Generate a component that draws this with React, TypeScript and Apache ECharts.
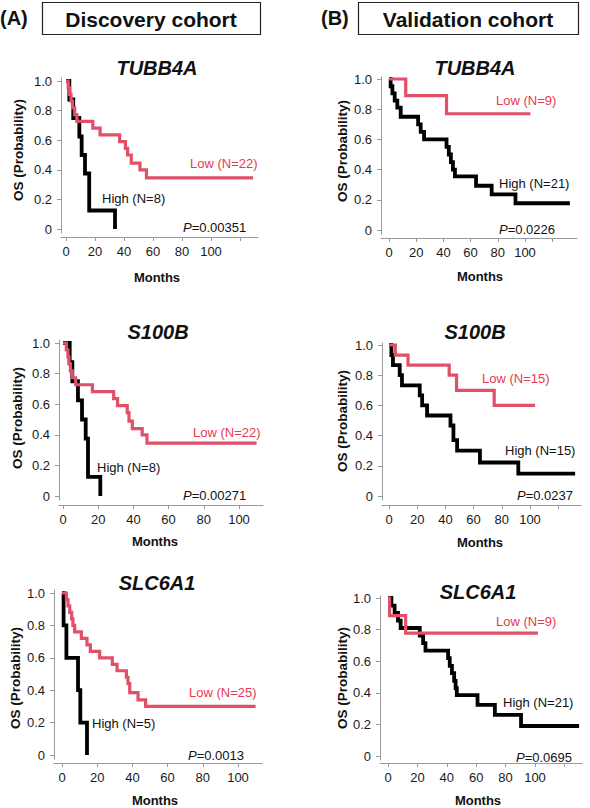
import React, { useEffect, useRef } from "react";
import * as echarts from "echarts";

const FONT = "'Liberation Sans', Arial, Helvetica, sans-serif";
const RED_LINE = "#e05069";
const RED_TEXT = "#e8394f";

const xTicks = [0, 20, 40, 60, 80, 100, 120];
const xLabels = [0, 20, 40, 60, 80, 100];
const yTicks = [0, 0.2, 0.4, 0.6, 0.8, 1.0];

const cohortTitles = ["Discovery cohort", "Validation cohort"];
const cohortTags = ["(A)", "(B)"];
const genes = ["TUBB4A", "TUBB4A", "S100B", "S100B", "SLC6A1", "SLC6A1"];
const lowLabels = ["Low (N=22)", "Low (N=9)", "Low (N=22)", "Low (N=15)", "Low (N=25)", "Low (N=9)"];
const highLabels = ["High (N=8)", "High (N=21)", "High (N=8)", "High (N=15)", "High (N=5)", "High (N=21)"];
const pValues = ["0.00351", "0.0226", "0.00271", "0.0237", "0.0013", "0.0695"];

// Discovery TUBB4A
const a1LowT = [0, 1.5, 2.5, 3.5, 4.5, 6, 7.5, 18.5, 23.5, 37, 41, 42.5, 45, 51, 55.5, 129];
const a1LowS = [1, 0.955, 0.909, 0.864, 0.818, 0.773, 0.727, 0.682, 0.636, 0.591, 0.545, 0.5, 0.445, 0.4, 0.345, 0.345];
const a1HighT = [0, 2.3, 5, 9.2, 10.8, 13.1, 16, 33.8];
const a1HighS = [1, 0.875, 0.75, 0.625, 0.5, 0.375, 0.125, 0];
// Validation TUBB4A
const b1LowT = [0, 12.3, 42.3, 104];
const b1LowS = [1, 0.89, 0.77, 0.77];
const b1HighT = [0, 1.2, 2.5, 4.2, 6.1, 8.6, 21.4, 23.3, 25.8, 42.3, 44, 45.5, 47, 48.5, 64, 75.5, 93, 133];
const b1HighS = [1, 0.952, 0.905, 0.857, 0.81, 0.75, 0.7, 0.65, 0.6, 0.55, 0.5, 0.45, 0.4, 0.355, 0.293, 0.236, 0.177, 0.177];
// Discovery S100B
const a2LowT = [0, 1.9, 2.8, 3.4, 4.2, 5.3, 7.2, 16.7, 28.8, 31, 36.5, 37.5, 39.4, 45, 47.7, 110];
const a2LowS = [1, 0.955, 0.909, 0.864, 0.818, 0.773, 0.727, 0.682, 0.636, 0.591, 0.545, 0.49, 0.44, 0.4, 0.345, 0.345];
const a2HighT = [0, 3.8, 5.3, 8.5, 10.8, 12.9, 14.2, 21.2];
const a2HighS = [1, 0.875, 0.75, 0.625, 0.5, 0.375, 0.125, 0];
// Validation S100B
const b2LowT = [0, 4.5, 13.5, 42.7, 47.9, 74.6, 103.6];
const b2LowS = [1, 0.933, 0.867, 0.8, 0.7, 0.6, 0.6];
const b2HighT = [0, 1.7, 2.8, 7.6, 9.2, 21.8, 23.5, 27, 43.6, 45.7, 48.3, 64.5, 91.7, 132];
const b2HighS = [1, 0.933, 0.867, 0.8, 0.733, 0.667, 0.6, 0.533, 0.467, 0.37, 0.3, 0.222, 0.148, 0.148];
// Discovery SLC6A1
const a3LowT = [0, 2.5, 3.4, 4.4, 5.5, 6.2, 7.2, 11, 14.2, 16.1, 21.4, 28.6, 31.3, 36.6, 37.5, 38.5, 43.2, 47.5, 110];
const a3LowS = [1, 0.96, 0.92, 0.88, 0.84, 0.8, 0.76, 0.72, 0.68, 0.64, 0.6, 0.56, 0.52, 0.48, 0.44, 0.385, 0.34, 0.3, 0.3];
const a3HighT = [0, 0.9, 2.5, 9.1, 10.4, 14.2];
const a3HighS = [1, 0.8, 0.6, 0.4, 0.2, 0];
// Validation SLC6A1
const b3LowT = [0, 1.1, 12, 102];
const b3LowS = [1, 0.889, 0.778, 0.778];
const b3HighT = [0, 2.3, 4.5, 6.8, 8.6, 21.6, 23.9, 25.5, 40.9, 42, 43.5, 45, 46, 46.8, 60.9, 72.7, 90.5, 130];
const b3HighS = [1, 0.952, 0.905, 0.857, 0.81, 0.762, 0.714, 0.667, 0.619, 0.571, 0.524, 0.476, 0.43, 0.385, 0.323, 0.26, 0.19, 0.19];

const lowT = [a1LowT, b1LowT, a2LowT, b2LowT, a3LowT, b3LowT];
const lowS = [a1LowS, b1LowS, a2LowS, b2LowS, a3LowS, b3LowS];
const highT = [a1HighT, b1HighT, a2HighT, b2HighT, a3HighT, b3HighT];
const highS = [a1HighS, b1HighS, a2HighS, b2HighS, a3HighS, b3HighS];

// layout (pixels)
const layout = [
  { x0: 66, x100: 211, axL: 61, axR: 258, y1: 81, y0: 229, yTop: 78, yBot: 233, xAxY: 237, title: [157, 68], low: [190, 163], high: [102, 198], p: [183, 227], ylab: [18, 150], months: [157, 277] },
  { x0: 389, x100: 525, axL: 381, axR: 577, y1: 79, y0: 230, yTop: 77, yBot: 234, xAxY: 238, title: [475, 68], low: [496, 100], high: [499, 183], p: [499, 229], ylab: [342, 151], months: [480, 276] },
  { x0: 63, x100: 239, axL: 59, axR: 263, y1: 343, y0: 496, yTop: 340, yBot: 500, xAxY: 505, title: [158, 332], low: [193, 432], high: [97, 467], p: [183, 495], ylab: [17, 418], months: [155, 541] },
  { x0: 389, x100: 530, axL: 382, axR: 581, y1: 345, y0: 496, yTop: 343, yBot: 500, xAxY: 505, title: [475, 332], low: [482, 378], high: [505, 450], p: [517, 495], ylab: [342, 421], months: [480, 542] },
  { x0: 62, x100: 238, axL: 54, axR: 262, y1: 593, y0: 755, yTop: 590, yBot: 759, xAxY: 763, title: [157, 583], low: [189, 692], high: [92, 723], p: [188, 755], ylab: [15, 678], months: [155, 800] },
  { x0: 388, x100: 535, axL: 380, axR: 582, y1: 598, y0: 756, yTop: 596, yBot: 760, xAxY: 763, title: [478, 592], low: [496, 621], high: [503, 702], p: [516, 757], ylab: [342, 678], months: [478, 800] },
];

function txt(x: number, y: number, text: string, o: any = {}) {
  return {
    type: "text",
    x,
    y,
    rotation: o.rotation || 0,
    silent: true,
    style: {
      text,
      fill: o.fill || "#111",
      fontSize: o.fontSize || 13,
      fontWeight: o.fontWeight || "normal",
      fontStyle: o.fontStyle || "normal",
      fontFamily: FONT,
      align: o.align || "left",
      textAlign: o.align || "left",
      verticalAlign: "middle",
      textVerticalAlign: "middle",
      rich: o.rich,
    },
  };
}

function buildOption() {
  const grid: any[] = [];
  const xAxis: any[] = [];
  const yAxis: any[] = [];
  const series: any[] = [];
  const graphic: any[] = [];

  // headers
  graphic.push(txt(0, 18, cohortTags[0], { fontSize: 20, fontWeight: "bold" }));
  graphic.push({ type: "rect", shape: { x: 42.5, y: 2.5, width: 218, height: 32 }, style: { fill: "#fff", stroke: "#222", lineWidth: 1.2 } });
  graphic.push(txt(151, 19, cohortTitles[0], { fontSize: 21, fontWeight: "bold", align: "center" }));
  graphic.push(txt(321, 18, cohortTags[1], { fontSize: 20, fontWeight: "bold" }));
  graphic.push({ type: "rect", shape: { x: 358.5, y: 2.5, width: 220, height: 32 }, style: { fill: "#fff", stroke: "#222", lineWidth: 1.2 } });
  graphic.push(txt(468, 19, cohortTitles[1], { fontSize: 21, fontWeight: "bold", align: "center" }));

  layout.forEach((g, i) => {
    const pxm = (g.x100 - g.x0) / 100;
    const pxu = g.y0 - g.y1;
    const xmin = (g.axL - g.x0) / pxm;
    const xmax = (g.axR - g.x0) / pxm;
    grid.push({ left: g.axL, top: g.yTop, width: g.axR - g.axL, height: g.yBot - g.yTop, containLabel: false });
    xAxis.push({
      type: "value",
      gridIndex: i,
      min: xmin,
      max: xmax,
      offset: g.xAxY - g.yBot,
      axisLine: { show: true, onZero: false, lineStyle: { color: "#9a9a9a", width: 1 } },
      axisTick: { show: true, customValues: xTicks.filter((v) => v <= xmax), length: 4, lineStyle: { color: "#9a9a9a" } },
      axisLabel: { customValues: xLabels, margin: 8, fontSize: 13, color: "#1a1a1a", fontFamily: FONT },
      splitLine: { show: false },
    });
    yAxis.push({
      type: "value",
      gridIndex: i,
      min: -(g.yBot - g.y0) / pxu,
      max: 1 + (g.y1 - g.yTop) / pxu,
      axisLine: { show: true, onZero: false, lineStyle: { color: "#9a9a9a", width: 1 } },
      axisTick: { show: true, customValues: yTicks, length: 4, lineStyle: { color: "#9a9a9a" } },
      axisLabel: {
        customValues: yTicks,
        margin: 9,
        fontSize: 13,
        color: "#1a1a1a",
        fontFamily: FONT,
        formatter: (v: number) => (v === 0 ? "0" : v.toFixed(1)),
      },
      splitLine: { show: false },
    });
    series.push({
      type: "line",
      xAxisIndex: i,
      yAxisIndex: i,
      step: "end",
      symbol: "none",
      silent: true,
      clip: false,
      lineStyle: { color: "#000", width: 3.8, cap: "butt", join: "miter" },
      data: highT[i].map((t, k) => [t, highS[i][k]]),
      z: 2,
    });
    series.push({
      type: "line",
      xAxisIndex: i,
      yAxisIndex: i,
      step: "end",
      symbol: "none",
      silent: true,
      clip: false,
      lineStyle: { color: RED_LINE, width: 3.2, cap: "butt", join: "miter" },
      data: lowT[i].map((t, k) => [t, lowS[i][k]]),
      z: 3,
    });

    graphic.push(txt(g.title[0], g.title[1], genes[i], { fontSize: 20, fontWeight: "bold", fontStyle: "italic", align: "center" }));
    graphic.push(txt(g.low[0], g.low[1], lowLabels[i], { fontSize: 13, fill: RED_TEXT }));
    graphic.push(txt(g.high[0], g.high[1], highLabels[i], { fontSize: 13 }));
    graphic.push(
      txt(g.p[0], g.p[1], "{i|P}{n|=" + pValues[i] + "}", {
        fontSize: 13,
        rich: {
          i: { fontStyle: "italic", fontSize: 13, fontFamily: FONT, fill: "#111", color: "#111" },
          n: { fontSize: 13, fontFamily: FONT, fill: "#111", color: "#111" },
        },
      })
    );
    graphic.push(txt(g.ylab[0], g.ylab[1], "OS (Probability)", { fontSize: 13.5, fontWeight: "bold", align: "center", rotation: Math.PI / 2 }));
    graphic.push(txt(g.months[0], g.months[1], "Months", { fontSize: 13, fontWeight: "bold", align: "center" }));
  });

  return {
    animation: false,
    backgroundColor: "#fff",
    grid,
    xAxis,
    yAxis,
    series,
    graphic: { elements: graphic },
  };
}

export default function App() {
  const ref = useRef<HTMLDivElement>(null);
  useEffect(() => {
    if (!ref.current) return;
    const chart = echarts.init(ref.current, undefined, { renderer: "svg" });
    chart.setOption(buildOption() as any);
    return () => chart.dispose();
  }, []);
  return <div ref={ref} style={{ position: "absolute", left: 0, top: 0, width: 590, height: 808, background: "#fff" }} />;
}
